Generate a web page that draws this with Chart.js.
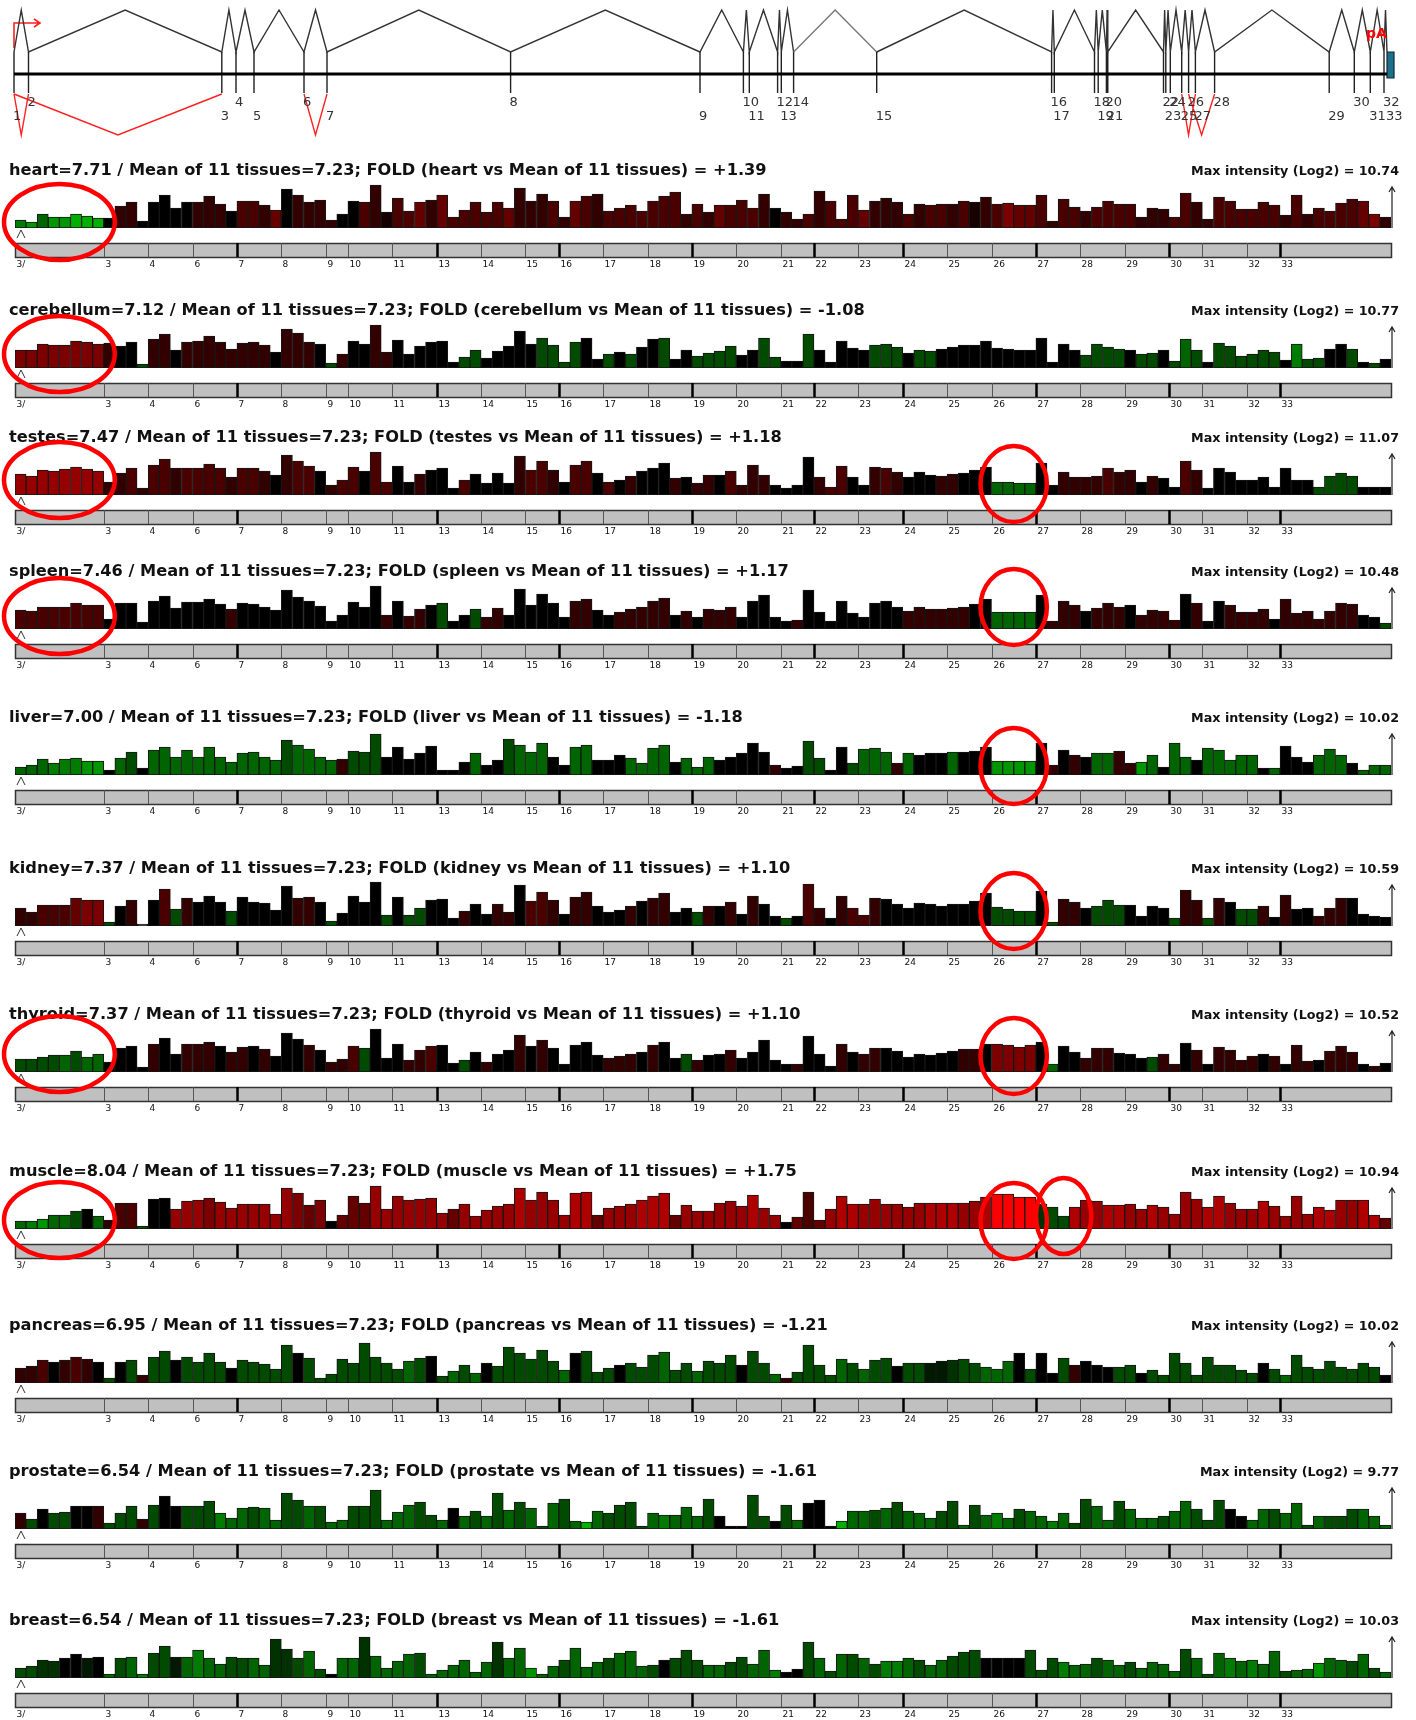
<!DOCTYPE html>
<html>
<head>
<meta charset="utf-8">
<script src="https://cdn.jsdelivr.net/npm/chart.js@4.4.1/dist/chart.umd.min.js"></script>
<style>
  body { margin: 0; background: #fff; }
  #page { position: relative; width: 1416px; height: 1720px; overflow: hidden; background: #fff; }
  .box { position: absolute; left: 0; width: 1416px; }
</style>
</head>
<body>
<div id="page"></div>
<script>
// ---- gene model (exon positions along the locus, diagram units) ----
var exonPos = [14, 28.5, 221.8, 236, 254, 304, 327, 510.6, 700, 743.4, 749.3, 777.6, 781.3, 793.6, 876.7,
  1051.6, 1054.3, 1094.5, 1098.2, 1106.4, 1107.8, 1163.5, 1165.8, 1170.3, 1181.7, 1188.6, 1195.4, 1214.6,
  1329.2, 1354.3, 1370.3, 1384, 1387];
var skippedPairs = [[1, 2], [1, 3], [6, 7], [25, 27], [26, 28]];

// ---- probe track: exon blocks under the bars ----
var blockLabels = ['3/', '3', '4', '6', '7', '8', '9', '10', '11', '13', '14', '15', '16', '17', '18', '19', '20',
  '21', '22', '23', '24', '25', '26', '27', '28', '29', '30', '31', '32', '33'];
var blockProbes = [8, 4, 4, 4, 4, 4, 2, 4, 4, 4, 4, 3, 4, 4, 4, 4, 4, 3, 4, 4, 4, 4, 4, 4, 4, 4, 3, 4, 3, 10];
var blockStrong = ['7', '13', '16', '19', '22', '24', '27', '30', '33'];

// ---- tissues ----
var tissues = ['heart', 'cerebellum', 'testes', 'spleen', 'liver', 'kidney', 'thyroid', 'muscle', 'pancreas', 'prostate', 'breast'];
var tissueLevel = ['7.71', '7.12', '7.47', '7.46', '7.00', '7.37', '7.37', '8.04', '6.95', '6.54', '6.54'];
var tissueFold = ['+1.39', '-1.08', '+1.18', '+1.17', '-1.18', '+1.10', '+1.10', '+1.75', '-1.21', '-1.61', '-1.61'];
var maxIntensity = ['10.74', '10.77', '11.07', '10.48', '10.02', '10.59', '10.52', '10.94', '10.02', '9.77', '10.03'];
var meanAll = '7.23';

// probe signal (relative bar height) and fold level (<0 green, >0 red) for each tissue
var heart = [8,6,14,11,11,14,12,10,10,22, 26,7,26,33,20,26,26,32,24,17, 27,27,23,18,39,33,26,28,8,14,
  27,26,43,16,30,17,26,28,33,11, 18,26,16,26,20,40,27,34,27,11, 27,32,34,17,20,23,17,27,32,36,
  14,24,16,23,23,28,20,34,20,16, 9,14,37,27,9,33,18,27,30,26, 14,24,23,24,24,27,26,31,24,25,
  23,23,33,7,29,21,17,21,27,24, 24,11,20,19,11,35,26,9,31,27, 19,19,26,23,13,33,14,20,17,25, 29,27,14,11];
var heartLvl = [-5,-6,-4,-6,-6,-7,-7,-7,0,2, 2,0,0,0,0,0,2,2,2,0, 3,3,2,4,0,2,2,2,2,0,
  0,3,2,1,3,3,4,2,4,3, 3,3,3,3,4,2,2,2,3,2, 4,3,2,3,3,3,3,3,3,3,
  2,3,2,4,3,3,3,2,0,2, 2,3,2,3,3,3,4,2,2,2, 3,2,3,3,2,3,1,2,3,5,
  4,4,3,2,3,3,2,3,3,3, 3,2,2,2,3,3,2,2,3,3, 3,3,3,3,2,3,2,3,3,3, 3,4,5,2];

var cerebellum = [18,18,24,23,23,27,26,24,25,22, 26,4,29,34,18,26,27,32,26,19, 25,26,23,16,39,35,26,24,5,14,
  27,24,43,16,28,14,22,26,27,6, 11,18,10,17,22,37,24,30,23,6, 26,30,9,14,16,14,21,29,30,9,
  18,12,15,17,22,13,18,30,11,7, 7,34,18,6,27,20,18,23,24,21, 15,18,17,19,21,23,23,27,20,19,
  18,18,30,6,24,18,13,24,21,19, 18,14,15,18,7,29,18,6,25,22, 12,14,18,16,8,24,9,10,19,24, 19,6,5,9];
var cerebellumLvl = [5,5,5,5,5,5,5,5,2,0, 0,-3,2,2,0,2,2,2,2,2, 2,2,2,0,2,2,2,0,-3,2,
  0,0,2,2,0,0,0,0,0,0, -3,-3,0,0,0,0,0,-3,-3,-3, -3,0,0,-3,0,-3,0,0,-3,0,
  0,-3,-3,-3,-3,0,0,-3,-3,0, 0,-3,0,0,0,0,0,-3,-3,-3, 0,-3,-3,0,0,0,0,0,0,0,
  0,0,0,0,0,0,-3,-3,-3,-3, 0,-3,-3,0,-3,-4,-3,0,-3,-3, -3,-3,-3,-3,0,-5,-3,-3,0,0, -3,0,-3,0];

var testes = [21,19,25,24,26,28,26,24,13,22, 27,7,30,36,27,27,27,31,27,18, 27,27,24,20,40,34,29,24,10,15,
  28,24,43,13,29,13,21,25,27,7, 15,21,12,22,12,39,25,34,25,13, 30,34,22,13,15,19,24,27,32,17,
  18,12,20,20,24,10,30,20,10,7, 10,38,18,8,29,18,10,28,27,23, 18,23,20,19,21,22,25,28,13,13,
  12,12,32,10,23,18,18,19,27,23, 25,13,19,17,8,34,25,7,27,23, 15,15,18,8,27,15,15,8,19,22, 19,8,8,8];
var testesLvl = [6,6,6,6,6,6,6,6,2,2, 3,2,3,3,2,3,3,3,3,2, 3,3,2,0,2,3,3,0,2,3,
  3,0,3,3,0,0,2,0,0,0, 3,0,0,0,0,2,3,3,2,0, 3,3,0,3,0,2,0,0,0,2,
  0,2,2,0,3,2,2,2,0,0, 0,0,2,3,3,0,0,2,3,2, 0,0,0,2,2,0,0,0,-4,-4,
  -4,-4,0,0,2,2,2,2,3,2, 2,0,2,0,0,3,2,0,0,0, 0,0,0,0,0,0,0,-3,-3,-3, -3,0,0,0];

var spleen = [19,18,22,22,22,26,24,24,10,26, 26,7,28,33,21,27,27,30,25,20, 26,25,22,19,39,32,28,23,8,14,
  27,22,43,14,28,13,20,24,26,8, 14,20,12,21,14,40,24,35,26,12, 28,30,19,14,17,20,22,28,31,14,
  18,12,20,19,22,12,28,34,12,8, 9,39,17,8,28,16,12,26,28,22, 18,22,20,20,21,22,25,30,17,17,
  17,17,34,8,28,24,18,21,26,22, 24,14,19,18,9,35,26,8,28,24, 17,17,20,10,30,16,18,10,18,26, 25,14,12,6];
var spleenLvl = [3,3,3,3,3,3,3,3,0,0, 0,0,0,0,0,0,0,0,0,2, 0,0,0,0,0,0,0,0,0,0,
  0,0,0,2,0,2,2,0,-3,0, 0,-3,2,2,0,0,0,0,0,0, 2,2,0,0,2,2,2,2,2,0,
  2,0,2,2,2,0,0,0,0,0, 2,0,0,0,0,0,0,0,0,0, 2,2,2,2,2,2,0,0,-4,-4,
  -4,-4,0,2,2,2,0,2,2,2, 0,2,2,2,2,0,2,0,0,2, 2,2,2,0,2,2,2,2,2,2, 2,0,0,-3];

var liver = [8,10,16,12,16,17,14,14,5,17, 23,7,25,28,18,25,18,28,18,13, 22,23,18,15,35,30,26,18,15,16,
  24,23,41,18,28,16,22,29,5,5, 13,22,10,15,36,30,23,32,18,10, 28,30,15,15,20,17,12,27,30,13,
  17,8,18,15,18,22,32,23,10,7, 9,34,17,5,28,12,26,27,23,12, 22,20,22,22,23,23,24,28,14,14,
  14,14,32,10,25,20,18,22,22,24, 12,13,20,8,32,18,15,27,25,15, 20,20,7,7,29,18,13,20,26,20, 12,5,10,10];
var liverLvl = [-4,-4,-4,-5,-5,-5,-6,-6,0,-4, -3,0,-4,-4,-4,-4,-4,-4,-4,-4, -4,-4,-4,-4,-3,-4,-4,-4,-4,2,
  -3,-3,-3,0,0,0,0,0,0,0, 0,-4,0,0,-3,-4,-4,-4,0,0, -4,-4,0,0,0,-4,-4,-4,-4,0,
  -4,-4,-4,0,0,0,0,0,2,0, 0,-3,-3,0,0,-3,-4,-4,-4,2, -4,0,0,0,-4,0,0,0,-6,-6,
  -6,-6,0,2,0,2,0,-4,-4,2, 2,-6,-4,0,-4,-4,0,-4,-4,-4, -4,-4,0,-4,0,0,0,-4,-4,-4, 0,-4,-4,-4];

var kidney = [18,14,21,21,21,28,26,26,4,20, 26,2,26,37,17,28,24,30,24,15, 29,24,23,16,40,28,29,24,5,13,
  30,24,44,11,29,11,18,26,27,8, 15,22,12,22,14,41,25,34,26,12, 29,34,20,14,16,20,25,28,33,14,
  18,14,20,20,24,12,30,22,10,8, 10,42,18,8,30,18,11,28,27,22, 18,23,22,20,22,22,25,33,19,17,
  15,15,35,4,27,24,18,20,26,21, 21,10,20,18,8,36,26,8,28,24, 17,17,20,9,31,17,18,10,18,28, 28,12,10,9];
var kidneyLvl = [2,2,3,3,3,4,5,5,-3,0, 2,0,0,3,-3,2,0,0,0,-3, 0,0,0,0,0,2,2,0,-3,0,
  0,0,0,-3,0,-3,-3,0,0,0, 2,0,0,2,2,0,3,3,2,0, 2,2,0,0,0,2,0,2,2,0,
  0,-3,2,0,2,0,2,0,0,-3, 0,3,2,0,2,3,3,2,0,0, 0,0,0,0,0,0,0,0,-3,-3,
  -3,-3,0,-3,2,2,0,-3,-3,-3, 0,0,0,0,-3,2,2,-3,2,0, -3,-3,2,0,2,0,0,2,2,2, 0,0,0,0];

var thyroid = [13,13,15,17,17,21,15,18,10,24, 26,5,28,34,18,28,28,30,26,20, 25,26,23,16,39,33,27,22,10,13,
  26,24,43,14,28,12,22,26,27,9, 12,20,10,18,22,37,26,32,24,8, 27,30,17,14,16,18,20,27,30,14,
  18,12,17,18,22,14,20,32,12,8, 8,36,18,6,28,20,18,24,24,21, 15,18,17,19,21,23,23,28,28,27,
  25,27,30,8,26,20,14,24,24,19, 18,14,15,18,8,29,22,8,25,22, 12,16,18,16,8,27,11,12,21,26, 20,8,6,9];
var thyroidLvl = [-3,-3,-3,-3,-4,-3,-4,-4,0,0, 0,0,2,0,0,2,2,2,0,2, 2,0,2,0,0,0,2,0,2,2,
  3,-3,0,0,0,2,2,3,0,0, -3,0,2,0,0,2,0,2,0,0, 0,0,0,2,2,2,0,2,0,0,
  -3,2,0,0,2,0,0,0,0,0, 2,0,0,0,2,0,2,2,0,0, 0,0,0,0,0,2,2,0,5,5,
  5,5,0,-4,0,0,2,2,2,0, 0,0,-3,2,2,0,2,0,2,2, 2,2,0,2,0,2,2,0,2,2, 2,0,2,0];

var muscle = [8,8,10,14,14,18,20,13,9,26, 26,3,30,31,20,28,29,31,27,21, 25,25,25,15,41,36,24,29,8,14,
  33,26,43,20,33,29,30,31,16,20, 25,13,19,23,25,41,29,37,29,14, 36,37,14,21,23,25,29,33,36,14,
  24,18,18,26,28,23,34,21,14,7, 12,37,9,20,33,25,25,30,25,25, 22,26,26,26,26,26,28,32,35,35,
  32,32,25,22,13,22,29,28,24,24, 25,20,24,22,15,37,30,22,33,26, 20,20,28,23,13,33,15,22,19,29, 29,29,14,11];
var muscleLvl = [-4,-5,-6,-4,-4,-3,0,-4,2,3, 3,-3,0,0,6,6,6,5,6,6, 6,6,6,6,6,5,4,5,0,4,
  4,4,6,6,6,6,6,6,6,4, 6,6,6,6,6,7,6,6,6,6, 7,7,4,6,6,6,7,7,7,4,
  6,6,6,6,6,6,7,6,6,0, 4,3,4,6,7,7,6,6,6,6, 6,6,7,7,7,6,6,7,10,10,
  10,10,-2,-3,-3,7,6,6,7,7, 6,6,7,6,6,6,6,7,7,6, 6,6,7,6,6,6,6,7,7,6, 6,7,7,4];

var pancreas = [15,17,23,21,23,26,24,21,5,21, 23,8,26,32,23,26,21,30,21,15, 23,21,19,14,38,30,25,5,9,24,
  20,40,26,20,14,22,25,27,7,12, 18,10,20,17,36,30,24,33,22,13, 30,32,11,15,18,20,16,28,31,13,
  20,12,22,20,28,18,32,20,9,5, 11,38,18,8,24,20,14,23,25,17, 20,20,20,22,23,24,20,16,14,22,
  30,14,30,10,25,18,22,18,16,16, 18,10,13,8,30,20,8,26,18,18, 13,10,20,14,8,28,16,14,22,16, 14,20,16,8];
var pancreasLvl = [2,2,3,0,2,3,2,0,-3,0, -3,2,-3,-3,0,-3,-3,-3,-3,0, -3,-3,-3,-3,-3,0,-3,-3,-3,-3,
  -3,-3,-3,-3,-3,-4,-3,0,-3,-4, -3,-4,0,-3,-3,-3,-3,-3,-3,-4, 0,-3,-3,-3,0,-3,-3,-3,-4,-3,
  -3,-4,-3,-3,-3,0,-3,-3,-4,2, -3,-3,-3,-3,-4,-3,-4,-3,-3,0, -3,-3,-1,-1,-2,-3,-3,-4,-4,-4,
  0,-3,0,0,-3,2,0,0,0,-3, -3,0,-3,-3,-3,-3,-3,-3,-3,-3, -3,-3,0,-3,-4,-3,-3,-3,-3,-3, -3,-3,-3,0];

var prostate = [16,10,20,16,17,23,23,23,6,16, 23,10,24,33,23,23,23,28,16,11, 21,22,21,9,36,29,23,23,7,9,
  23,23,39,9,17,24,27,14,9,21, 13,18,13,36,19,27,21,3,26,30, 8,7,18,16,24,27,3,16,14,14,
  22,13,30,13,3,3,34,13,8,24, 9,26,29,3,8,18,18,19,21,27, 18,16,11,18,28,4,24,14,16,11,
  20,18,13,8,16,6,30,23,9,28, 20,11,11,13,18,28,20,9,29,20, 13,9,20,20,16,26,4,13,13,13, 20,20,13,4];
var prostateLvl = [2,-3,0,-3,-3,0,0,2,-3,-3, -3,2,-3,0,0,-3,-3,-3,-5,-4, -4,-3,-4,-4,-3,-3,-4,-3,-4,-4,
  -3,-3,-3,-4,-4,-4,-3,-3,-4,0, -4,-3,-4,-3,-4,-3,-4,-3,-4,-3, -4,-7,-4,-3,-3,-3,-3,-4,-5,-4,
  -4,-4,-3,0,0,0,-3,-3,0,-3, -4,0,0,0,-7,-4,-4,-3,-4,-3, -4,-4,-4,-3,-3,-4,-3,-4,-5,-4,
  -3,-4,-4,-5,-4,-3,-3,-4,-4,-3, -4,-4,-4,-3,-4,-4,-3,-3,-3,0, 0,-4,-4,-3,-4,-4,-3,-4,-3,-3, -3,-4,-4,-4];

var breast = [10,12,18,17,20,24,20,21,4,20, 21,4,25,32,21,21,28,20,14,21, 20,20,13,39,29,20,27,9,4,20,
  20,41,22,10,17,24,25,4,8,13, 18,6,16,36,20,30,10,4,12,18, 30,11,16,20,25,27,12,13,18,20,
  28,18,13,13,16,21,14,28,8,6, 9,36,20,7,24,24,20,14,17,17, 20,18,13,18,22,26,28,20,20,20,
  20,28,8,20,16,13,14,20,18,13, 16,10,16,14,7,29,20,4,25,20, 17,18,14,27,7,8,9,15,20,18, 17,24,10,6];
var breastLvl = [-3,-3,-2,-2,0,0,-1,0,-4,-3, -4,-5,-3,-3,-1,-4,-5,-4,-4,-3, -3,-4,-4,-2,-2,-3,-4,-3,0,-4,
  -4,-2,-4,-4,-4,-4,-3,-4,-4,-4, -4,-4,-4,-2,-4,-4,-6,-4,-4,-3, -4,-4,-4,-3,-4,-4,-4,-3,0,-3,
  -3,-3,-4,-4,-3,-3,-4,-4,-5,0, 0,-3,-4,-3,-4,-3,-4,-3,-5,-5, -4,-3,-4,-4,-3,-3,-3,0,0,0,
  0,-3,-3,-3,-5,-4,-4,-3,-4,-4, -3,-4,-4,-4,-4,-3,-4,-3,-4,-5, -4,-5,-4,-4,-3,-4,-4,-6,-4,-4, -3,-4,-3,-4];

// probe ranges highlighted with red rings
var ringedProbes = {
  heart: [[1, 8]], cerebellum: [[1, 8]], testes: [[1, 8], [89, 92]], spleen: [[1, 8], [89, 92]],
  liver: [[89, 92]], kidney: [[89, 92]], thyroid: [[1, 8], [89, 92]], muscle: [[1, 8], [89, 92], [94, 96]],
  pancreas: [], prostate: [], breast: []
};

var signals = [heart, cerebellum, testes, spleen, liver, kidney, thyroid, muscle, pancreas, prostate, breast];
var levels = [heartLvl, cerebellumLvl, testesLvl, spleenLvl, liverLvl, kidneyLvl, thyroidLvl, muscleLvl, pancreasLvl, prostateLvl, breastLvl];

// ---- layout ----
var baselines = [228, 368, 495, 629, 775, 926, 1072, 1229, 1383, 1529, 1678];
var ringDy = {
  heart: [-6], cerebellum: [-14], testes: [-15, -11], spleen: [-13, -22], liver: [-9], kidney: [-15],
  thyroid: [-18, -16], muscle: [-9, -8, -13]
};
var ABOVE = 70, BELOW = 45, PLOT_H = 45;
var FONT = '"DejaVu Sans", Verdana, sans-serif';
var TITLE_SX = 1.08, MAX_SX = 1.06;

function lvlColor(l) {
  var v = Math.min(255, Math.round(Math.abs(l) * 25));
  return l > 0 ? 'rgb(' + v + ',0,0)' : 'rgb(0,' + v + ',0)';
}

function addBox(top, height) {
  var d = document.createElement('div');
  d.className = 'box';
  d.style.top = top + 'px';
  d.style.height = height + 'px';
  var c = document.createElement('canvas');
  d.appendChild(c);
  document.getElementById('page').appendChild(d);
  return c;
}

function wideText(ctx, text, x, y, sx) {
  ctx.save();
  ctx.translate(x, y);
  ctx.scale(sx, 1);
  ctx.fillText(text, 0, 0);
  ctx.restore();
}

// ---- gene structure diagram ----
var Y = { peak: 10, exonTop: 52, backbone: 74, exonBottom: 93, skipBottom: 135, arrow: 23 };

var intronPts = [];
for (var i = 0; i < exonPos.length - 1; i++) {
  intronPts.push({ x: exonPos[i], y: Y.exonTop });
  intronPts.push({ x: (exonPos[i] + exonPos[i + 1]) / 2, y: Y.peak });
}
intronPts.push({ x: exonPos[exonPos.length - 1], y: Y.exonTop });

var tickPts = [];
exonPos.slice(0, -1).forEach(function (x) {
  tickPts.push({ x: x, y: Y.exonTop }, { x: x, y: Y.exonBottom }, { x: x, y: null });
});

var skipPts = [];
skippedPairs.forEach(function (p) {
  var a = exonPos[p[0] - 1], b = exonPos[p[1] - 1];
  skipPts.push({ x: a, y: Y.exonBottom + 1 }, { x: (a + b) / 2, y: Y.skipBottom }, { x: b, y: Y.exonBottom + 1 }, { x: a, y: null });
});

var x0 = exonPos[0], xEnd = exonPos[exonPos.length - 1];
var arrowPts = [
  { x: x0, y: 48 }, { x: x0, y: Y.arrow }, { x: x0 + 26, y: Y.arrow }, { x: x0, y: null },
  { x: x0 + 20, y: Y.arrow - 4 }, { x: x0 + 26, y: Y.arrow }, { x: x0 + 20, y: Y.arrow + 4 }
];
var polyA = [
  { x: xEnd, y: Y.exonTop }, { x: xEnd + 7, y: Y.exonTop }, { x: xEnd + 7, y: 78 }, { x: xEnd, y: 78 }, { x: xEnd, y: Y.exonTop }
];

var geneLabels = {
  id: 'geneLabels',
  afterDatasetsDraw: function (chart) {
    var ctx = chart.ctx, xs = chart.scales.x, ys = chart.scales.y;
    ctx.save();
    ctx.fillStyle = '#333';
    ctx.font = '13px ' + FONT;
    ctx.textBaseline = 'middle';
    exonPos.forEach(function (x, i) {
      var n = i + 1;
      ctx.fillText(String(n), xs.getPixelForValue(x) - 1, ys.getPixelForValue(n % 2 === 0 ? 103 : 117));
    });
    ctx.fillStyle = '#ff0000';
    ctx.font = 'bold 14px ' + FONT;
    ctx.fillText('pA', xs.getPixelForValue(xEnd - 21), ys.getPixelForValue(34));
    ctx.restore();
  }
};

new Chart(addBox(0, 145), {
  type: 'scatter',
  data: {
    datasets: [
      { data: [{ x: x0, y: Y.backbone }, { x: xEnd, y: Y.backbone }], showLine: true, borderColor: '#000', borderWidth: 3, pointRadius: 0 },
      { data: tickPts, showLine: true, spanGaps: false, borderColor: '#222', borderWidth: 1.4, pointRadius: 0 },
      { data: intronPts, showLine: true, borderColor: '#333', borderWidth: 1.4, pointRadius: 0,
        segment: { borderColor: function (c) { return (c.p0DataIndex === 26 || c.p0DataIndex === 27) ? '#777' : undefined; } } },
      { data: skipPts, showLine: true, spanGaps: false, borderColor: '#ff2020', borderWidth: 1.4, pointRadius: 0 },
      { data: arrowPts, showLine: true, spanGaps: false, borderColor: '#ff2020', borderWidth: 1.6, pointRadius: 0 },
      { data: polyA, showLine: true, fill: 'shape', backgroundColor: '#1f6f8b', borderColor: '#0b2a36', borderWidth: 1.2, pointRadius: 0 }
    ]
  },
  options: {
    responsive: true, maintainAspectRatio: false, animation: false, devicePixelRatio: 1,
    layout: { padding: 0 },
    plugins: { legend: { display: false }, tooltip: { enabled: false } },
    scales: {
      x: { type: 'linear', min: 0, max: 1416, display: false },
      y: { type: 'linear', min: 0, max: 145, reverse: true, display: false }
    }
  },
  plugins: [geneLabels]
});

// ---- tissue panels ----
function panelDecor(ti) {
  var name = tissues[ti];
  return {
    id: 'panelDecor' + ti,
    afterDatasetsDraw: function (chart) {
      var ctx = chart.ctx, xs = chart.scales.x, a = chart.chartArea;
      var bx = function (k) { return xs.getPixelForValue(k - 1.5); }; // left edge of probe k (1-based)
      ctx.save();
      // titles
      ctx.fillStyle = '#111';
      ctx.textBaseline = 'middle';
      ctx.font = 'bold 15px ' + FONT;
      ctx.textAlign = 'left';
      wideText(ctx, name + '=' + tissueLevel[ti] + ' / Mean of 11 tissues=' + meanAll + '; FOLD (' + name +
        ' vs Mean of 11 tissues) = ' + tissueFold[ti], 9, a.bottom - 57, TITLE_SX);
      ctx.font = 'bold 12px ' + FONT;
      ctx.textAlign = 'right';
      wideText(ctx, 'Max intensity (Log2) = ' + maxIntensity[ti], 1399, a.bottom - 56, MAX_SX);
      // max-intensity arrow
      var ax = a.right + 1;
      ctx.strokeStyle = '#222';
      ctx.lineWidth = 1.2;
      ctx.beginPath();
      ctx.moveTo(ax, a.bottom); ctx.lineTo(ax, a.top + 4);
      ctx.moveTo(ax - 3, a.top + 9); ctx.lineTo(ax, a.top + 4); ctx.lineTo(ax + 3, a.top + 9);
      ctx.stroke();
      // probe start mark
      ctx.lineWidth = 1;
      ctx.strokeStyle = '#333';
      ctx.beginPath();
      ctx.moveTo(a.left + 2, a.bottom + 10); ctx.lineTo(a.left + 6, a.bottom + 2); ctx.lineTo(a.left + 10, a.bottom + 10);
      ctx.stroke();
      // exon block track
      var top = a.bottom + 15, h = 14;
      ctx.fillStyle = '#c0c0c0';
      ctx.fillRect(a.left, top, a.right - a.left, h);
      ctx.lineWidth = 1.5;
      ctx.strokeStyle = '#333';
      ctx.strokeRect(a.left + 0.5, top + 0.5, a.right - a.left, h);
      var k = 1;
      ctx.font = '9px ' + FONT;
      ctx.textAlign = 'left';
      ctx.fillStyle = '#111';
      blockLabels.forEach(function (lab, j) {
        var px = Math.round(bx(k)) + 0.5;
        if (j > 0) {
          var strong = blockStrong.indexOf(lab) >= 0;
          ctx.lineWidth = strong ? 2.5 : 1;
          ctx.strokeStyle = strong ? '#000' : '#555';
          ctx.beginPath(); ctx.moveTo(px, top); ctx.lineTo(px, top + h); ctx.stroke();
        }
        ctx.fillText(lab, px + 1, top + h + 8);
        k += blockProbes[j];
      });
      ctx.restore();
    },
    afterDraw: function (chart) {
      var rings = ringedProbes[name] || [];
      if (!rings.length) return;
      var ctx = chart.ctx, xs = chart.scales.x, a = chart.chartArea;
      ctx.save();
      ctx.strokeStyle = '#ff0000';
      ctx.lineWidth = 4.5;
      rings.forEach(function (r, j) {
        var l = xs.getPixelForValue(r[0] - 1.5), rr = xs.getPixelForValue(r[1] - 0.5);
        ctx.beginPath();
        ctx.ellipse((l + rr) / 2, a.bottom + ringDy[name][j], (rr - l) / 2 + 11, 38, 0, 0, Math.PI * 2);
        ctx.stroke();
      });
      ctx.restore();
    }
  };
}

var probeLabels = heart.map(function (_, i) { return 'p' + (i + 1); });

tissues.forEach(function (name, ti) {
  var canvas = addBox(baselines[ti] - ABOVE, ABOVE + BELOW);
  new Chart(canvas, {
    type: 'bar',
    data: {
      labels: probeLabels,
      datasets: [{
        data: signals[ti],
        backgroundColor: levels[ti].map(lvlColor),
        borderColor: '#161616',
        borderWidth: 1,
        borderSkipped: false,
        barPercentage: 1,
        categoryPercentage: 1
      }]
    },
    options: {
      responsive: true, maintainAspectRatio: false, animation: false, devicePixelRatio: 1,
      layout: { padding: { left: 15, right: 25, top: ABOVE - PLOT_H, bottom: BELOW } },
      plugins: { legend: { display: false }, tooltip: { enabled: false } },
      scales: {
        x: { display: false },
        y: { display: false, min: 0, max: PLOT_H }
      }
    },
    plugins: [panelDecor(ti)]
  });
});
</script>
</body>
</html>
